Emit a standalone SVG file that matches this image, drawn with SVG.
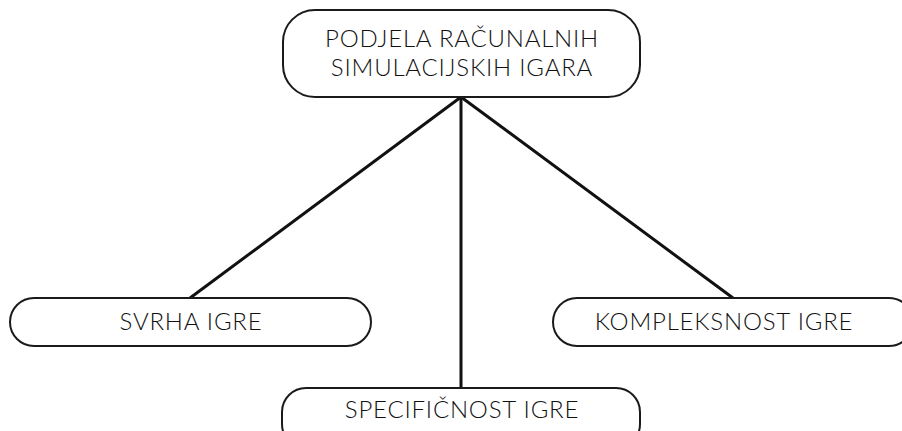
<svg xmlns="http://www.w3.org/2000/svg" width="902" height="431" viewBox="0 0 902 431">
  <style>
    .box { fill: #ffffff; stroke: #1a1a1a; stroke-width: 2; }
    .edge { stroke: #111111; stroke-width: 3; fill: none; }
    .label { font-family: "Lato", "Liberation Sans", sans-serif; font-size: 24px; font-weight: 300; fill: #111111; text-anchor: middle; letter-spacing: 0.8px; }
  </style>
  <rect width="902" height="431" fill="#ffffff"/>
  <g id="connectors">
    <line class="edge" x1="461" y1="97" x2="190" y2="298"/>
    <line class="edge" x1="461" y1="97" x2="461" y2="388"/>
    <line class="edge" x1="461" y1="97" x2="733" y2="298"/>
  </g>
  <g id="root">
    <rect class="box" x="283" y="10" width="357" height="87" rx="32" ry="32"/>
    <text class="label" x="462" y="47">PODJELA RAČUNALNIH</text>
    <text class="label" x="462" y="76">SIMULACIJSKIH IGARA</text>
  </g>
  <g id="svrha">
    <rect class="box" x="10" y="298" width="361" height="48" rx="24" ry="24"/>
    <text class="label" x="191" y="330">SVRHA IGRE</text>
  </g>
  <g id="kompleksnost">
    <rect class="box" x="553" y="298" width="360" height="48" rx="24" ry="24"/>
    <text class="label" x="724" y="330">KOMPLEKSNOST IGRE</text>
  </g>
  <g id="specificnost">
    <rect class="box" x="282" y="388" width="358" height="60" rx="24" ry="24"/>
    <text class="label" x="462" y="418">SPECIFIČNOST IGRE</text>
  </g>
</svg>
